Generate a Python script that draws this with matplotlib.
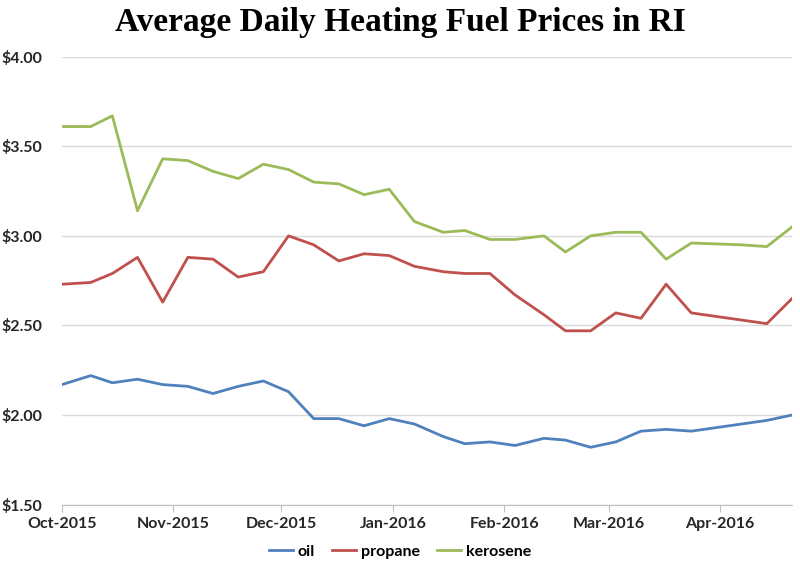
import pandas as pd
import numpy as np
import matplotlib.pyplot as plt
import matplotlib.dates as mdates
from matplotlib.ticker import FuncFormatter

# survey dates (weekly, shifted a day after Monday holidays)
dates = pd.to_datetime([
    "2015-10-05", "2015-10-13", "2015-10-19", "2015-10-26",
    "2015-11-02", "2015-11-09", "2015-11-16", "2015-11-23", "2015-11-30",
    "2015-12-07", "2015-12-14", "2015-12-21", "2015-12-28",
    "2016-01-04", "2016-01-11", "2016-01-19", "2016-01-25",
    "2016-02-01", "2016-02-08", "2016-02-16", "2016-02-22", "2016-02-29",
    "2016-03-07", "2016-03-14", "2016-03-21", "2016-03-28",
    "2016-04-04", "2016-04-11", "2016-04-18", "2016-04-25",
])

oil = [2.17, 2.22, 2.18, 2.20, 2.17, 2.16, 2.12, 2.16, 2.19, 2.13,
       1.98, 1.98, 1.94, 1.98, 1.95, 1.88, 1.84, 1.85, 1.83, 1.87,
       1.86, 1.82, 1.85, 1.91, 1.92, 1.91, 1.93, 1.95, 1.97, 2.00]
propane = [2.73, 2.74, 2.79, 2.88, 2.63, 2.88, 2.87, 2.77, 2.80, 3.00,
           2.95, 2.86, 2.90, 2.89, 2.83, 2.80, 2.79, 2.79, 2.67, 2.56,
           2.47, 2.47, 2.57, 2.54, 2.73, 2.57, 2.55, 2.53, 2.51, 2.65]
kerosene = [3.61, 3.61, 3.67, 3.14, 3.43, 3.42, 3.36, 3.32, 3.40, 3.37,
            3.30, 3.29, 3.23, 3.26, 3.08, 3.02, 3.03, 2.98, 2.98, 3.00,
            2.91, 3.00, 3.02, 3.02, 2.87, 2.96, 2.955, 2.95, 2.94, 3.05]

tick_dates = pd.to_datetime(["2015-10-05", "2015-11-05", "2015-12-05", "2016-01-05",
                             "2016-02-05", "2016-03-05", "2016-04-05"])

df = pd.DataFrame({"oil": oil, "propane": propane, "kerosene": kerosene}, index=dates)
colors = {"oil": "#4F81BD", "propane": "#C0504D", "kerosene": "#9BBB59"}

fig = plt.figure(figsize=(8, 5.72), dpi=100)
ax = fig.add_axes([0.0775, 0.1178, 0.9125, 0.7831])

for name in ["oil", "propane", "kerosene"]:
    ax.plot(df.index, df[name], color=colors[name], linewidth=2.0, label=name,
            solid_joinstyle="round")

ax.set_ylim(1.5, 4.0)
ax.set_yticks(np.arange(1.5, 4.01, 0.5))
ax.yaxis.set_major_formatter(FuncFormatter(lambda v, p: "${:.2f}".format(v)))
ax.set_xlim(dates[0], dates[-1])
ax.set_xticks(tick_dates)
ax.xaxis.set_major_formatter(mdates.DateFormatter("%b-%Y"))

ax.grid(True, axis="y", color="#D9D9D9", linewidth=1.0)
ax.set_axisbelow(True)
for s in ["top", "right", "left"]:
    ax.spines[s].set_visible(False)
ax.spines["bottom"].set_color("#BFBFBF")
ax.tick_params(axis="y", length=0, pad=14)
ax.tick_params(axis="x", length=5, color="#BFBFBF", pad=4)
for lab in ax.get_xticklabels() + ax.get_yticklabels():
    lab.set_fontfamily("Lato")
    lab.set_fontweight("bold")
    lab.set_fontsize(11.5)
    lab.set_color("#262626")

fig.text(0.5, 0.96, "Average Daily Heating Fuel Prices in RI", ha="center", va="center",
         fontsize=24, fontweight="bold", family="Liberation Serif")

leg = fig.legend(loc="center", bbox_to_anchor=(0.5, 0.035), ncol=3, frameon=False,
                 handlelength=1.5, columnspacing=1.1, handletextpad=0.3,
                 prop={"family": "Lato", "weight": "bold", "size": 11.5})

plt.savefig("out.png", dpi=100)
